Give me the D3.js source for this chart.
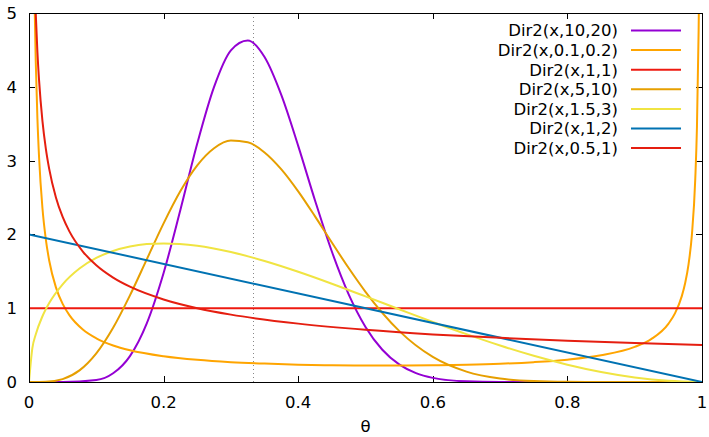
<!DOCTYPE html>
<html>
<head>
<meta charset="utf-8">
<script src="https://cdn.jsdelivr.net/npm/d3@7"></script>
<style>
  body { margin: 0; background: #fff; }
  svg { display: block; font-family: "DejaVu Sans", sans-serif; }
</style>
</head>
<body>
<svg id="chart"></svg>
<script>
// values, [theta, density]
const beta10_20 = [[0,0],[0.05,0.0001],[0.1,0.027],[0.125,0.118],[0.15,0.351],[0.175,0.795],[0.2,1.478],
  [0.225,2.334],[0.25,3.231],[0.275,3.999],[0.3,4.494],[0.325,4.628],[0.35,4.403],[0.375,3.886],[0.4,3.199],
  [0.425,2.460],[0.45,1.768],[0.475,1.188],[0.5,0.746],[0.525,0.437],[0.55,0.238],[0.575,0.120],[0.6,0.056],
  [0.65,0.009],[0.7,0.001],[0.8,0],[1,0]];
const beta01_02 = [[0.0085,5.04],[0.01,4.357],[0.0125,3.571],[0.015,3.038],[0.02,2.354],[0.025,1.934],[0.03,1.647],
  [0.04,1.282],[0.05,1.058],[0.06,0.906],[0.08,0.711],[0.1,0.592],[0.125,0.495],[0.15,0.430],[0.2,0.349],
  [0.25,0.300],[0.3,0.269],[0.35,0.249],[0.4,0.235],[0.45,0.227],[0.5,0.223],[0.55,0.222],[0.6,0.226],
  [0.65,0.234],[0.7,0.247],[0.75,0.269],[0.8,0.303],[0.85,0.362],[0.9,0.475],[0.925,0.584],[0.95,0.788],
  [0.96,0.933],[0.97,1.164],[0.975,1.341],[0.98,1.595],[0.985,1.998],[0.99,2.752],[0.9925,3.456],
  [0.995,4.769],[0.9953,5.01]];
const beta1_1 = [[0,1],[1,1]];
const beta5_10 = [[0,0],[0.025,0.003],[0.05,0.039],[0.075,0.157],[0.1,0.388],[0.125,0.735],[0.15,1.174],
  [0.175,1.662],[0.2,2.150],[0.225,2.588],[0.25,2.936],[0.275,3.168],[0.3,3.272],[0.325,3.249],[0.35,3.111],
  [0.375,2.881],[0.4,2.583],[0.425,2.244],[0.45,1.890],[0.475,1.544],[0.5,1.222],[0.55,0.693],[0.6,0.340],
  [0.65,0.141],[0.7,0.047],[0.75,0.012],[0.8,0.002],[0.85,0.0002],[0.9,0],[1,0]];
const beta15_3 = [[0,0],[0.005,0.459],[0.01,0.643],[0.02,0.891],[0.03,1.070],[0.05,1.324],[0.075,1.538],
  [0.1,1.681],[0.125,1.776],[0.15,1.836],[0.175,1.869],[0.2,1.878],[0.25,1.846],[0.3,1.761],[0.35,1.640],
  [0.4,1.494],[0.45,1.332],[0.5,1.160],[0.55,0.986],[0.6,0.813],[0.65,0.648],[0.7,0.494],[0.75,0.355],
  [0.8,0.235],[0.85,0.136],[0.9,0.062],[0.95,0.016],[1,0]];
const beta1_2 = [[0,2],[1,0]];
const beta05_1 = [[0.01,5.0],[0.0125,4.472],[0.015,4.083],[0.02,3.536],[0.025,3.162],[0.03,2.887],[0.04,2.5],
  [0.05,2.236],[0.06,2.041],[0.08,1.768],[0.1,1.581],[0.125,1.414],[0.15,1.291],[0.2,1.118],[0.25,1.0],
  [0.3,0.913],[0.4,0.791],[0.5,0.707],[0.6,0.645],[0.7,0.598],[0.8,0.559],[0.9,0.527],[1,0.5]];

const labels = ["Dir2(x,10,20)", "Dir2(x,0.1,0.2)", "Dir2(x,1,1)", "Dir2(x,5,10)",
  "Dir2(x,1.5,3)", "Dir2(x,1,2)", "Dir2(x,0.5,1)"];
const colors = ["#9400d3", "#ffa500", "#ee1a10", "#e69f00", "#f0e442", "#0072b2", "#e51e10"];
const series = [beta10_20, beta01_02, beta1_1, beta5_10, beta15_3, beta1_2, beta05_1];

const xTicks = [0, 0.2, 0.4, 0.6, 0.8, 1];
const yTicks = [0, 1, 2, 3, 4, 5];
const meanLine = 1 / 3;

const W = 709, H = 437;
const margin = { top: 13, right: 7, bottom: 55, left: 29 };
const w = W - margin.left - margin.right,
  h = H - margin.top - margin.bottom;
const fs = 16.5;

const svg = d3.select("#chart").attr("width", W).attr("height", H);
const g = svg.append("g").attr("transform", `translate(${margin.left},${margin.top})`);

const x = d3.scaleLinear().domain([0, 1]).range([0, w]);
const y = d3.scaleLinear().domain([0, 5]).range([h, 0]);

g.append("clipPath").attr("id", "clip")
  .append("rect").attr("width", w).attr("height", h);

// dotted line at the mean
g.append("line")
  .attr("x1", Math.round(x(meanLine)) + 0.5).attr("x2", Math.round(x(meanLine)) + 0.5)
  .attr("y1", 0).attr("y2", h)
  .attr("stroke", "#888").attr("stroke-width", 1).attr("stroke-dasharray", "1,3");

// ticks (inward, mirrored)
const tk = 6;
xTicks.forEach((t) => {
  const px = Math.round(x(t)) + 0.5;
  g.append("line").attr("x1", px).attr("x2", px).attr("y1", h).attr("y2", h - tk).attr("stroke", "#000");
  g.append("line").attr("x1", px).attr("x2", px).attr("y1", 0).attr("y2", tk).attr("stroke", "#000");
  g.append("text").attr("x", x(t)).attr("y", h + 26).attr("text-anchor", "middle")
    .attr("font-size", fs).text(d3.format("")(t));
});
yTicks.forEach((t) => {
  const py = Math.round(y(t)) + 0.5;
  g.append("line").attr("x1", 0).attr("x2", tk).attr("y1", py).attr("y2", py).attr("stroke", "#000");
  g.append("line").attr("x1", w).attr("x2", w - tk).attr("y1", py).attr("y2", py).attr("stroke", "#000");
  g.append("text").attr("x", -12).attr("y", y(t)).attr("dy", "0.36em").attr("text-anchor", "end")
    .attr("font-size", fs).text(t);
});

// curves
const line = d3.line()
  .x((d) => x(d[0]))
  .y((d) => y(d[1]))
  .curve(d3.curveMonotoneX);

const curves = g.append("g").attr("clip-path", "url(#clip)");
series.forEach((s, i) => {
  curves.append("path")
    .datum(s)
    .attr("d", line)
    .attr("fill", "none")
    .attr("stroke", colors[i])
    .attr("stroke-width", 2);
});

// border
g.append("rect").attr("x", 0.5).attr("y", 0.5).attr("width", w).attr("height", h)
  .attr("fill", "none").attr("stroke", "#000").attr("stroke-width", 1);

// legend
const legend = svg.append("g");
labels.forEach((lab, i) => {
  const ly = 30.5 + i * 19.6;
  legend.append("text").attr("x", 618).attr("y", ly).attr("dy", "0.36em")
    .attr("text-anchor", "end").attr("font-size", fs).text(lab);
  legend.append("line").attr("x1", 631).attr("x2", 681).attr("y1", ly).attr("y2", ly)
    .attr("stroke", colors[i]).attr("stroke-width", 2);
});

// axis title
svg.append("text").attr("x", margin.left + w / 2).attr("y", 432)
  .attr("text-anchor", "middle").attr("font-size", fs).text("θ");
</script>
</body>
</html>
